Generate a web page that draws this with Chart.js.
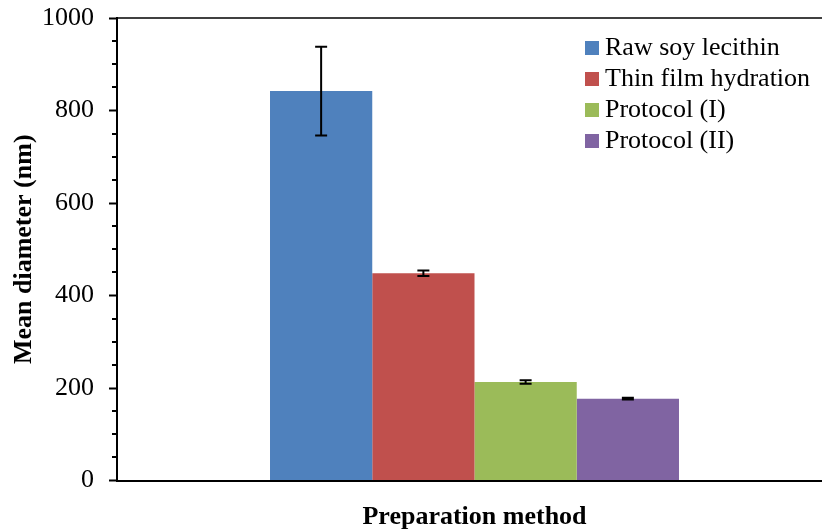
<!DOCTYPE html>
<html>
<head>
<meta charset="utf-8">
<script src="https://cdn.jsdelivr.net/npm/chart.js@4/dist/chart.umd.min.js"></script>
<style>
  html, body { margin: 0; padding: 0; background: #fff; overflow: hidden; }
  #wrap { width: 822px; height: 531px; overflow: hidden; }
</style>
</head>
<body>
<div id="wrap"><canvas id="diameterChart" width="835" height="531"></canvas></div>
<script>
// one category, one bar per method
const categories = [''];
const methodNames = ['Raw soy lecithin', 'Thin film hydration', 'Protocol (I)', 'Protocol (II)'];
const meanDiameter = [842, 448, 213, 177];
const errorValues = [96, 6, 4, 2];
const barColors = ['#4F81BD', '#C0504D', '#9BBB59', '#8064A2'];
const yTicks = [0, 200, 400, 600, 800, 1000];

const serif = '"Liberation Serif", "Times New Roman", serif';

// error bars with caps
const errorBarPlugin = {
    id: 'errorBars',
    afterDatasetsDraw(chart) {
        const ctx = chart.ctx;
        const y = chart.scales.y;
        ctx.save();
        ctx.strokeStyle = '#000';
        ctx.lineWidth = 2;
        chart.data.datasets.forEach((ds, i) => {
            const meta = chart.getDatasetMeta(i);
            meta.data.forEach((bar, j) => {
                const v = ds.data[j];
                const e = ds.errors[j];
                const top = y.getPixelForValue(v + e);
                const bot = y.getPixelForValue(v - e);
                const x = bar.x;
                ctx.beginPath();
                ctx.moveTo(x, top); ctx.lineTo(x, bot);
                ctx.moveTo(x - 6, top); ctx.lineTo(x + 6, top);
                ctx.moveTo(x - 6, bot); ctx.lineTo(x + 6, bot);
                ctx.stroke();
            });
        });
        ctx.restore();
    }
};

// frame top line, minor ticks and the legend inside the plot
const framePlugin = {
    id: 'frame',
    afterDraw(chart) {
        const ctx = chart.ctx;
        const area = chart.chartArea;
        const y = chart.scales.y;
        ctx.save();
        ctx.strokeStyle = '#000';
        ctx.lineWidth = 1.5;
        ctx.beginPath();
        ctx.moveTo(area.left, area.top);
        ctx.lineTo(area.right, area.top);
        ctx.stroke();

        ctx.lineWidth = 2;
        ctx.beginPath();
        for (let v = y.min; v <= y.max; v += 50) {
            if (v % 200 === 0) continue;
            const py = Math.round(y.getPixelForValue(v));
            ctx.moveTo(area.left - 5, py);
            ctx.lineTo(area.left, py);
        }
        ctx.stroke();

        const lx = area.right - 247;
        let ly = area.top + 30;
        ctx.font = '26px ' + serif;
        ctx.textBaseline = 'middle';
        ctx.textAlign = 'left';
        chart.data.datasets.forEach(ds => {
            ctx.fillStyle = ds.backgroundColor;
            ctx.fillRect(lx, ly - 7, 14, 14);
            ctx.fillStyle = '#000';
            ctx.fillText(ds.label, lx + 20, ly);
            ly += 31;
        });
        ctx.restore();
    }
};

const datasets = methodNames.map((name, i) => ({
    label: name,
    data: [meanDiameter[i]],
    errors: [errorValues[i]],
    backgroundColor: barColors[i],
    borderWidth: 0,
    barPercentage: 1.0,
    categoryPercentage: 0.572
}));

new Chart(document.getElementById('diameterChart'), {
    type: 'bar',
    data: { labels: categories, datasets: datasets },
    options: {
        responsive: false,
        animation: false,
        devicePixelRatio: 1,
        layout: { padding: { top: 18, right: 3, left: 0, bottom: 0 } },
        plugins: { legend: { display: false }, tooltip: { enabled: false } },
        scales: {
            x: {
                grid: { display: false },
                ticks: { display: false },
                border: { display: true, color: '#000', width: 2 },
                title: {
                    display: true,
                    text: 'Preparation method',
                    color: '#000',
                    font: { family: serif, size: 26, weight: 'bold' },
                    padding: { top: 0, bottom: -2 }
                },
                afterFit(scale) { scale.height = 50.5; }
            },
            y: {
                min: 0,
                max: 1000,
                afterBuildTicks(scale) { scale.ticks = yTicks.map(v => ({ value: v })); },
                ticks: {
                    color: '#000',
                    padding: 15,
                    font: { family: serif, size: 26 },
                    callback: v => String(v)
                },
                grid: {
                    display: true,
                    drawOnChartArea: false,
                    drawTicks: true,
                    tickLength: 8,
                    tickColor: '#000',
                    tickWidth: 2
                },
                border: { display: true, color: '#000', width: 2 },
                title: {
                    display: true,
                    text: 'Mean diameter (nm)',
                    color: '#000',
                    font: { family: serif, size: 26, weight: 'bold' },
                    padding: { top: 9, bottom: 0 }
                },
                afterFit(scale) {
                    scale.width = 117;
                    scale.paddingTop = 0;
                    scale.paddingBottom = 0;
                }
            }
        }
    },
    plugins: [errorBarPlugin, framePlugin]
});
</script>
</body>
</html>
